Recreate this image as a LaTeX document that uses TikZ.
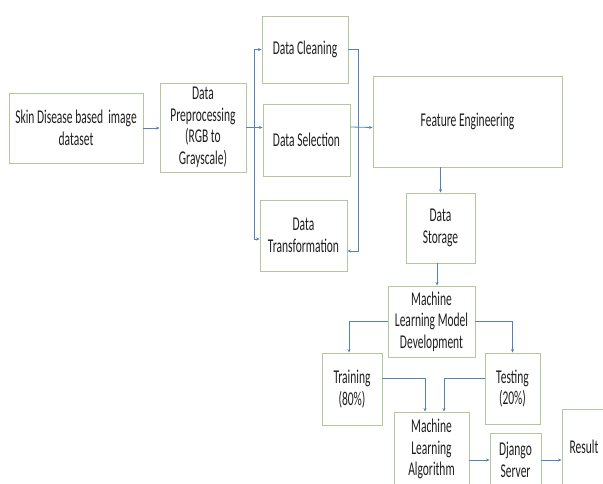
\documentclass[tikz,border=0pt]{standalone}
\usepackage{fontspec}
\setmainfont{Carlito}[FakeStretch=0.59]
\usepackage{tikz}
\usetikzlibrary{arrows.meta,positioning,calc}
\definecolor{boxGreen}{HTML}{B3C79B}
\definecolor{arrowBlue}{HTML}{5282B8}
\definecolor{textGrey}{HTML}{1E1E1E}
\tikzstyle{flowBox} = [
  rectangle,
  draw=boxGreen,
  line width=0.9pt,
  align=center,
  text=textGrey,
  inner sep=2pt,
  font=\fontsize{19.5}{21.5}\selectfont,
  ]
\tikzstyle{flowArrow} = [
  ->,
  draw=arrowBlue,
  line width=0.8pt,
  ]

\begin{document}
\begin{tikzpicture}[
  x=1pt, y=-1pt,
  >={Stealth[length=3.5pt,width=3pt]},
  every node/.style={flowBox}]
  \useasboundingbox (0,0) rectangle (603,483);

  \node[minimum width=134pt, minimum height=70pt] (skin) at (76,128) {Skin Disease based~~image\\dataset};
  \node[minimum width=86pt, minimum height=89pt] (prep) at (203,127.5) {Data\\Preprocessing\\(RGB to\\Grayscale)};
  \node[minimum width=86pt, minimum height=67pt] (clean) at (305,49.5) {Data Cleaning};
  \node[minimum width=87pt, minimum height=72pt] (select) at (306.5,140) {Data Selection};
  \node[minimum width=87pt, minimum height=71pt] (trans) at (303.5,235.5) {Data\\Transformation};
  \node[minimum width=189pt, minimum height=91pt] (feat) at (467.5,121.5) {Feature Engineering};
  \node[minimum width=69pt, minimum height=70pt] (store) at (440.5,228) {Data\\Storage};
  \node[minimum width=87pt, minimum height=71pt] (mldev) at (431.5,321.5) {Machine\\Learning Model\\Development};
  \node[minimum width=60pt, minimum height=72pt] (train) at (352,389) {Training\\(80\%)};
  \node[minimum width=55pt, minimum height=71pt] (test) at (512.5,388.5) {Testing\\(20\%)};
  \node[minimum width=75pt, minimum height=74pt] (mlalg) at (431.5,449) {Machine\\Learning\\Algorithm};
  \node[minimum width=51pt, minimum height=54pt] (django) at (515.5,460) {Django\\Server};
  \node[minimum width=64pt, minimum height=76pt] (result) at (594,447) {Result\hspace*{20pt}};

  \coordinate (split) at ($(prep.east)!0.5!(prep.east -| select.west)$);

  % preprocessing stage
  \draw[flowArrow] (skin.east) -- (skin.east -| prep.west);
  \draw[flowArrow] (prep.east) -- (prep.east -| select.west);
  \draw[flowArrow] (split) |- (clean.west);
  \draw[flowArrow] (split) |- ([yshift=-3.5pt]trans.west);
  \draw[flowArrow] (clean.east) -- ++(10,0) |- ([yshift=-15.5pt]trans.east);
  \draw[flowArrow] ([yshift=13pt]select.east) -- ([yshift=-6pt]feat.west);

  % storage and model
  \draw[flowArrow] (store.north |- feat.south) -- (store.north);
  \draw[flowArrow] ([xshift=-3.5pt]store.south) -- ([xshift=-3.5pt]store.south |- mldev.north);
  \draw[flowArrow] (mldev.west) -| ([xshift=-3pt]train.north);
  \draw[flowArrow] (mldev.east) -| (test.north);
  \draw[flowArrow] ([yshift=11pt]train.east) -| ([xshift=-6.5pt]mlalg.north);
  \draw[flowArrow] ([yshift=10.5pt]test.west) -| ([xshift=12.5pt]mlalg.north);
  \draw[flowArrow] (mlalg.east |- django.west) -- (django.west);
  \draw[flowArrow] (django.east) -- (django.east -| result.west);

\end{tikzpicture}
\end{document}
